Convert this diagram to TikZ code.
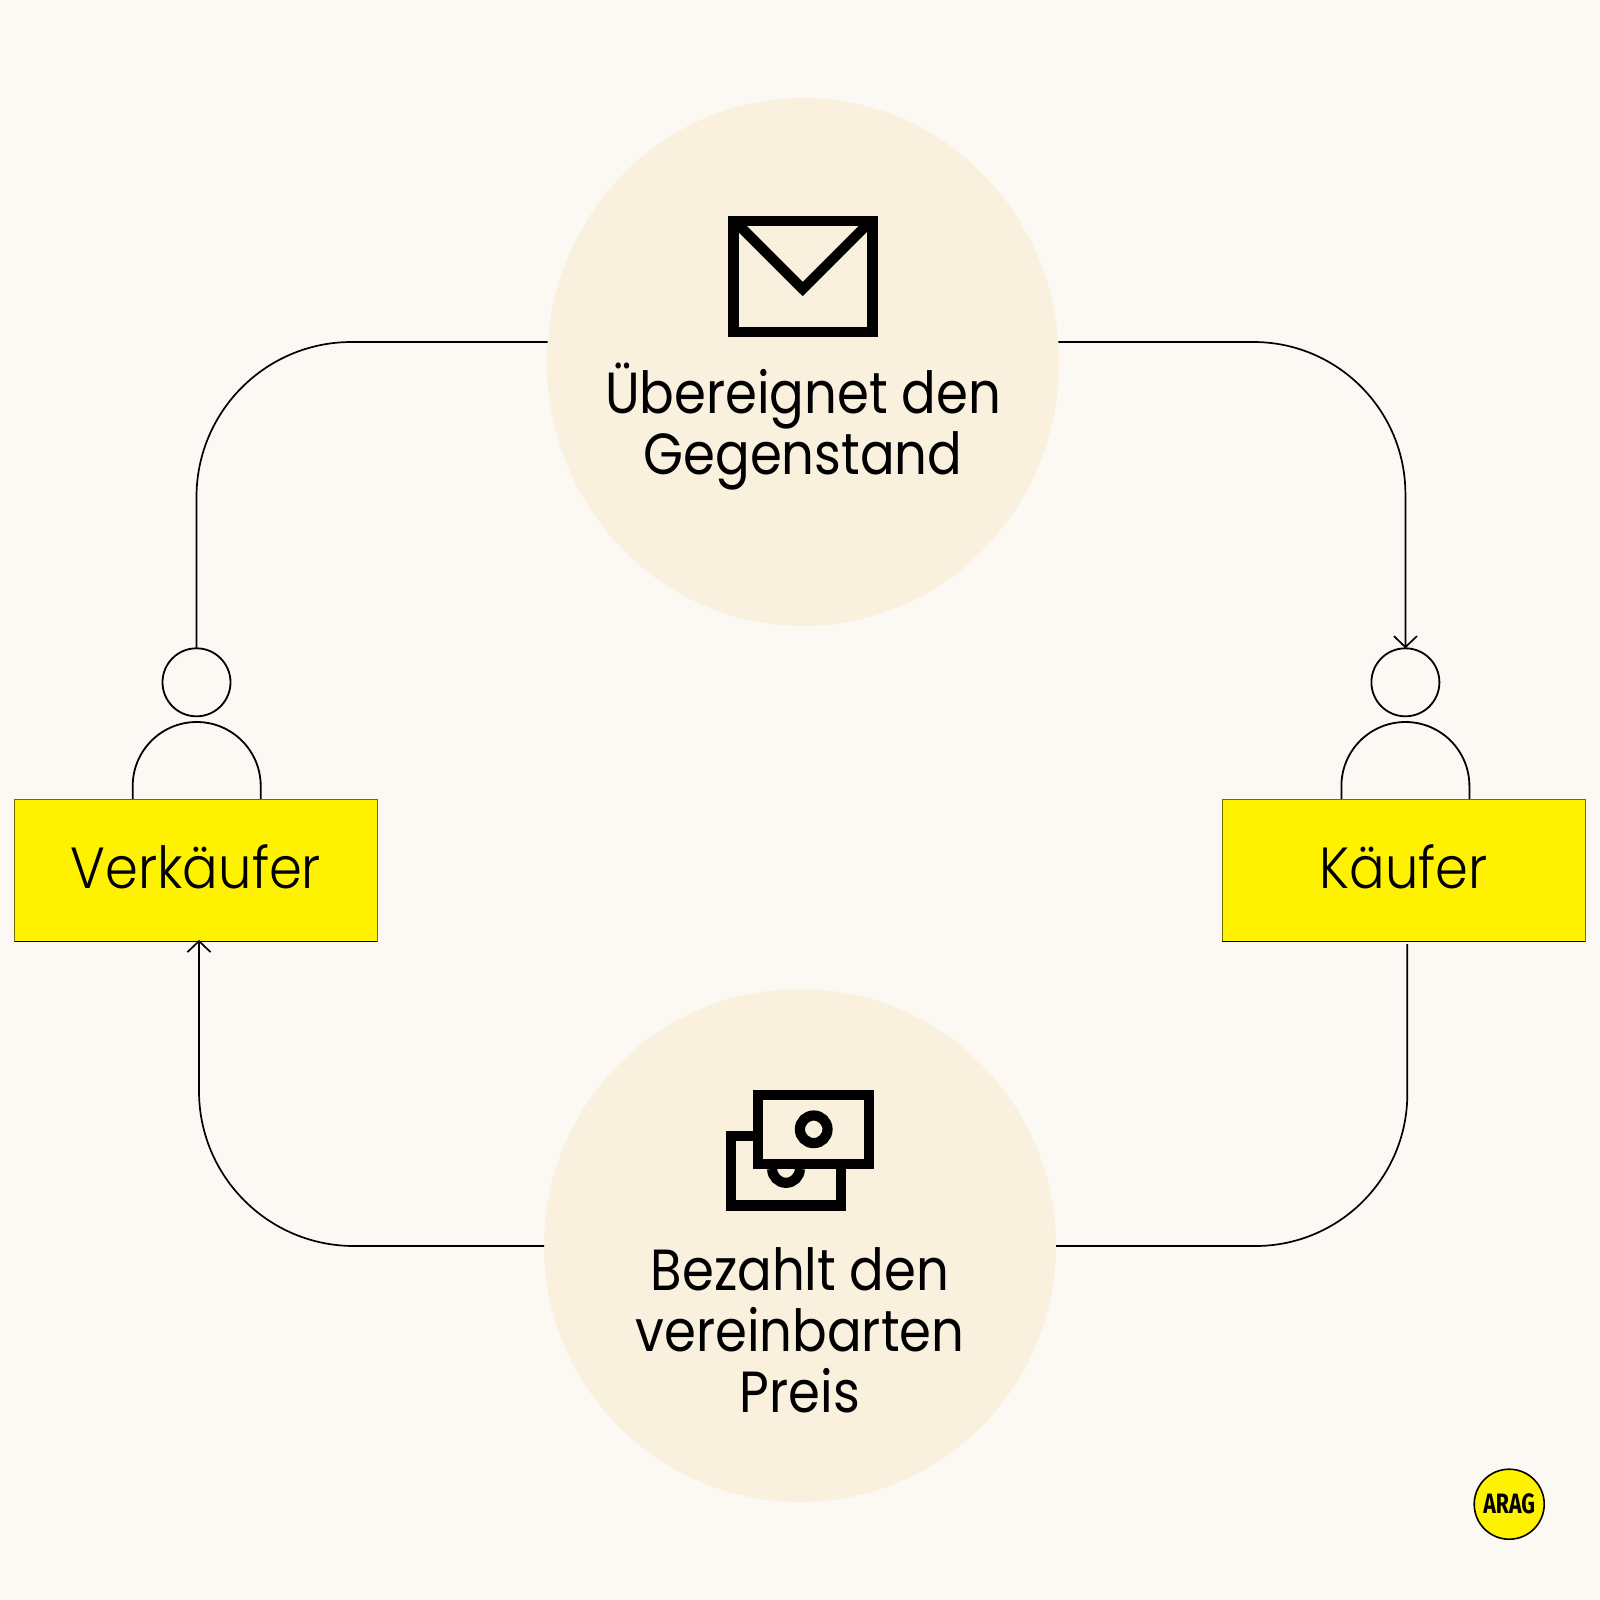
\documentclass[tikz,border=0pt]{standalone}
\usepackage{fontspec}
\setmainfont{Poppins Light}[FakeStretch=0.91]
\newfontfamily\labfont{Poppins}[FakeStretch=0.885]
\newfontfamily\logofont{Fira Sans}[UprightFont=* Bold,FakeStretch=0.76]
\usetikzlibrary{shapes.geometric,arrows.meta,calc}
\definecolor{bgc}{RGB}{252,249,244}
\definecolor{circ}{RGB}{249,240,222}
\definecolor{yel}{RGB}{255,242,0}
\newcommand{\boxtext}[1]{\raisebox{-9.25pt}[0pt][0pt]{#1}}
\tikzset{
  big/.style={ellipse,fill=circ,minimum width=256pt,inner sep=0pt,outer sep=0pt},
  boxn/.style={rectangle,fill=yel,draw=black!55!yel,line width=0.3pt,minimum width=181.3pt,minimum height=71.2pt,inner sep=0pt,outer sep=0pt,font=\fontsize{29pt}{30pt}\selectfont},
  boxedge/.style={draw=black,line width=0.4pt},
  headn/.style={circle,draw=black,line width=0.9pt,minimum size=34pt,inner sep=0pt,outer sep=0pt},
  conn/.style={draw=black,line width=0.85pt,rounded corners=77.5pt},
  arr/.style={-{Straight Barb[length=5.5pt,width=11.5pt,line width=0.85pt]}},
  lab/.style={align=center,font=\labfont\fontsize{29pt}{30.6pt}\selectfont,inner sep=0pt},
  icon/.style={draw=black,line width=5.1pt,miter limit=10}
}
\begin{document}
\begin{tikzpicture}[x=0.5pt,y=-0.5pt]
\useasboundingbox (0,0) rectangle (1600,1600);
\fill[bgc] (0,0) rectangle (1600,1600);
% large circles
\node[big,minimum height=264pt] (top) at (803,362) {};
\node[big,minimum height=256.5pt] (bottom) at (800,1245.5) {};
% figures
\draw[line width=0.9pt] (132.7,799) -- (132.7,786) arc (180:360:64) -- (260.7,799);
\draw[line width=0.9pt] (1341.4,799) -- (1341.4,786) arc (180:360:64) -- (1469.4,799);
\node[headn] (sellerhead) at (196.5,682.3) {};
\node[headn] (buyerhead) at (1405.4,682.3) {};
\node[boxn] (sellerbox) at (196,870.2) {\boxtext{Verkäufer}};
\node[boxn] (buyerbox) at (1403.7,870.2) {\boxtext{Käufer}};
\draw[boxedge] (sellerbox.south west) -- (sellerbox.south east);
\draw[boxedge] (buyerbox.south west) -- (buyerbox.south east);
% connectors
\draw[conn] ($(top.west)+(0.7,-20)$) -| (sellerhead.north);
\draw[conn,arr,rounded corners=76pt] ($(top.east)+(-0.7,-20)$) -| (buyerhead.north);
\coordinate (buyerout) at ($(buyerbox.south)+(3.6,2.7)$);
\coordinate (sellerin) at ($(sellerbox.south)+(3,-1.5)$);
\draw[conn,rounded corners=76pt] (buyerout) |- ($(bottom.east)+(0,0.5)$);
\draw[conn,arr] ($(bottom.west)+(0,0.5)$) -| (sellerin);
% envelope
\draw[icon] (733.5,221.2) rectangle (872.5,332.1);
\draw[icon] (733.5,220) -- (802.7,289) -- (871.7,220);
% money
\draw[icon] (753,1136.2) -- (730.6,1136.2) -- (730.6,1205.5) -- (841.2,1205.5) -- (841.2,1169);
\draw[icon] (772.2,1169) arc (180:0:13.8);
\draw[icon] (758.2,1094.6) rectangle (869.2,1163.8);
\draw[icon] (813.7,1129.3) circle (13.8);
% labels
\node[lab] (toplabel) at (803,426.5) {Übereignet den\\Gegenstand};
\node[lab] (bottomlabel) at (800,1330.5) {Bezahlt den\\vereinbarten\\Preis};
% logo
\node[circle,fill=yel,draw=black,line width=0.8pt,minimum size=35pt,inner sep=0pt] (logo) at (1509.2,1504.2) {\logofont\fontsize{14pt}{14pt}\selectfont ARAG};
\end{tikzpicture}
\end{document}
